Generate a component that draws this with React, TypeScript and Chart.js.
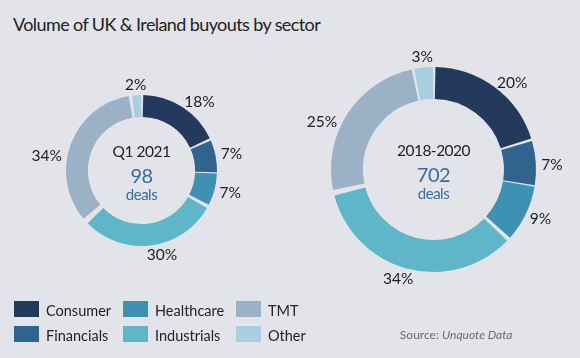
import React, { useEffect, useRef } from "react";
import { Chart, registerables } from "chart.js";

Chart.register(...registerables);

const sectors = ["Consumer", "Financials", "Healthcare", "Industrials", "TMT", "Other"];
const sectorColors = ["#243a5c", "#30638e", "#3e91b3", "#60b6c9", "#9ab1c6", "#a6d0e0"];
const q1Values = [18, 7, 7, 30, 34, 2];
const periodValues = [20, 7, 9, 34, 25, 3];
const q1Label = "Q1 2021";
const q1Deals = "98";
const periodLabel = "2018-2020";
const periodDeals = "702";
const dealsWord = "deals";
const title = "Volume of UK & Ireland buyouts by sector";

const BG = "#e3e4e9";
const FONT = "Lato, 'Noto Sans', sans-serif";
const PAD = 62;
const SPACING = 5;

const donutPlugin = {
  id: "donutText",
  afterDatasetsDraw(chart: any, _args: any, opts: any) {
    const ctx = chart.ctx;
    const meta = chart.getDatasetMeta(0);
    const data = chart.data.datasets[0].data as number[];
    ctx.save();
    ctx.font = `15.5px ${FONT}`;
    ctx.fillStyle = "#222";
    ctx.textAlign = "center";
    ctx.textBaseline = "alphabetic";
    const capH = 11;
    const shifts: number[] = opts.labelShift || [];
    let cx = 0, cy = 0;
    meta.data.forEach((el: any, i: number) => {
      const p = el.getProps(["x", "y", "startAngle", "endAngle", "outerRadius"], true);
      cx = p.x; cy = p.y;
      const a = (p.startAngle + p.endAngle) / 2 + ((shifts[i] || 0) * Math.PI) / 180;
      const r = p.outerRadius + opts.labelPad;
      const txt = `${data[i]}%`;
      const w = ctx.measureText(txt).width;
      const px = p.x + r * Math.cos(a) + Math.cos(a) * w / 2;
      const py = p.y + r * Math.sin(a) + Math.sin(a) * capH / 2;
      ctx.fillText(txt, px, py + capH / 2);
    });
    // centre text
    try { (ctx as any).letterSpacing = "-0.5px"; } catch (e) {}
    ctx.fillStyle = "#222";
    ctx.font = `15.5px ${FONT}`;
    ctx.fillText(opts.label, cx, cy - 13.5);
    ctx.fillStyle = "#3a6d9b";
    ctx.font = `20px ${FONT}`;
    ctx.fillText(opts.deals, cx, cy + 12.5);
    ctx.font = `15px ${FONT}`;
    ctx.fillText(dealsWord, cx, cy + 29);
    ctx.restore();
  },
};

function Donut(props: {
  values: number[];
  cx: number;
  cy: number;
  r: number;
  cutout: string;
  label: string;
  deals: string;
  labelShift: number[];
}) {
  const ref = useRef<HTMLCanvasElement>(null);
  const side = 2 * props.r + SPACING + 2 * PAD;
  useEffect(() => {
    const chart = new Chart(ref.current!, {
      type: "doughnut",
      data: {
        labels: sectors,
        datasets: [
          {
            data: props.values,
            backgroundColor: sectorColors,
            borderWidth: 0,
            spacing: SPACING,
          } as any,
        ],
      },
      options: {
        responsive: false,
        devicePixelRatio: 1,
        animation: false,
        cutout: props.cutout,
        layout: { padding: PAD },
        plugins: {
          legend: { display: false },
          tooltip: { enabled: false },
          donutText: { label: props.label, deals: props.deals, labelPad: 8, labelShift: props.labelShift },
        } as any,
      },
      plugins: [donutPlugin],
    });
    return () => chart.destroy();
  }, []);
  return (
    <canvas
      ref={ref}
      width={side}
      height={side}
      style={{ position: "absolute", left: props.cx - side / 2, top: props.cy - side / 2, width: side, height: side }}
    />
  );
}

export default function App() {
  const legendCols = [14, 123, 236];
  const legendRows = [301, 326];
  return (
    <div
      style={{
        position: "absolute",
        left: 0,
        top: 0,
        width: 580,
        height: 358,
        background: BG,
        fontFamily: FONT,
        overflow: "hidden",
      }}
    >
      <div
        style={{
          position: "absolute",
          left: 13,
          top: 14.5,
          fontSize: 18,
          lineHeight: "18px",
          letterSpacing: "-0.6px",
          color: "#222",
          whiteSpace: "nowrap",
        }}
      >
        {title}
      </div>
      <Donut values={q1Values} cx={141} cy={170.5} r={73} cutout="70%" label={q1Label} deals={q1Deals} labelShift={[4, 0, 0, -5, -10, 0]} />
      <Donut values={periodValues} cx={433} cy={169.5} r={100} cutout="68%" label={periodLabel} deals={periodDeals} labelShift={[3, 1, 0, 2, -8, 0]} />
      {sectors.map((s, i) => {
        const col = Math.floor(i / 2);
        const row = i % 2;
        return (
          <React.Fragment key={s}>
            <div
              style={{
                position: "absolute",
                left: legendCols[col],
                top: legendRows[row],
                width: 25,
                height: 16,
                background: sectorColors[i],
              }}
            />
            <div
              style={{
                position: "absolute",
                left: legendCols[col] + 32,
                top: legendRows[row] + 2.8,
                fontSize: 14.5,
                lineHeight: "14.5px",
                color: "#222",
                whiteSpace: "nowrap",
              }}
            >
              {s}
            </div>
          </React.Fragment>
        );
      })}
      <div
        style={{
          position: "absolute",
          right: 580 - 512.5,
          top: 329.4,
          fontSize: 12,
          lineHeight: "12px",
          color: "#6b6b6b",
          whiteSpace: "nowrap",
        }}
      >
        Source: <i>Unquote Data</i>
      </div>
    </div>
  );
}
